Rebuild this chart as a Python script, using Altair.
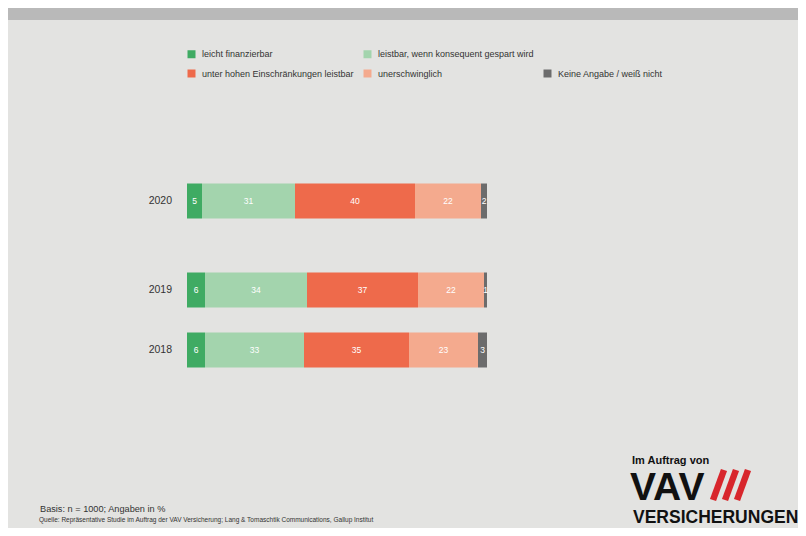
import altair as alt
import pandas as pd

years = [2020, 2019, 2018]
categories = [
    "leicht finanzierbar",
    "leistbar, wenn konsequent gespart wird",
    "unter hohen Einschränkungen leistbar",
    "unerschwinglich",
    "Keine Angabe / weiß nicht",
]
leicht = [5, 6, 6]
leistbar = [31, 34, 33]
unter = [40, 37, 35]
unerschwinglich = [22, 22, 23]
keine = [2, 1, 3]
colors = ["#3fab63", "#a3d4ad", "#ee6a4b", "#f4aa8e", "#6c6c6c"]

basis = "Basis: n = 1000; Angaben in %"
quelle = "Quelle: Repräsentative Studie im Auftrag der VAV Versicherung; Lang & Tomaschtik Communications, Gallup Institut"

series = [leicht, leistbar, unter, unerschwinglich, keine]
rows = []
for ci, (cat, vals) in enumerate(zip(categories, series)):
    for y, v in zip(years, vals):
        rows.append({"year": y, "cat": cat, "value": v, "order": ci})
df = pd.DataFrame(rows)

FONT = "Liberation Sans, Arial, Helvetica, sans-serif"

# legend filled column by column (2 rows x 3 columns, first cell of column 3 empty)
legend_domain = [categories[0], categories[2], categories[1], categories[3], "_", categories[4]]
legend_range = [colors[0], colors[2], colors[1], colors[3], "transparent", colors[4]]

xs = alt.Scale(domain=[-179 / 3, (790 - 179) / 3], zero=False, nice=False, padding=0)
ys = alt.Scale(domain=[2018, 2019, 2020], range=[342, 282, 193], zero=False, nice=False, padding=0)

base = alt.Chart(df).transform_stack(
    stack="value", groupby=["year"], as_=["x0", "x1"],
    sort=[alt.SortField("order", order="ascending")]
).transform_calculate(mid="(datum.x0 + datum.x1) / 2")

bars = base.mark_bar(orient="horizontal", size=35).encode(
    x=alt.X("x0:Q", scale=xs, axis=None),
    x2="x1:Q",
    y=alt.Y("year:Q", scale=ys, axis=None),
    color=alt.Color(
        "cat:N",
        scale=alt.Scale(domain=legend_domain, range=legend_range),
        legend=alt.Legend(
            orient="none", legendX=179, legendY=41.5, columns=3, title=None,
            symbolType="square", symbolSize=64, symbolStrokeWidth=0,
            labelFont=FONT, labelFontSize=9, labelColor="#333333",
            rowPadding=9.5, columnPadding=9, labelOffset=6,
            labelExpr="datum.label == '_' ? '' : datum.label",
            labelLimit=400,
        ),
    ),
)

labels = base.mark_text(color="white", fontSize=8.5, font=FONT).encode(
    x=alt.X("mid:Q", scale=xs, axis=None),
    y=alt.Y("year:Q", scale=ys, axis=None),
    text="value:Q",
)

ydf = pd.DataFrame({"year": years})
year_labels = alt.Chart(ydf).mark_text(
    align="right", fontSize=10.5, font=FONT, color="#333333"
).encode(
    x=alt.value(164),
    y=alt.Y("year:Q", scale=ys, axis=None),
    text=alt.Text("year:Q", format="d"),
)

one = pd.DataFrame({"a": [1]})
band = alt.Chart(one).mark_rect(color="#b9b9b9").encode(
    x=alt.value(0), x2=alt.value(790), y=alt.value(0), y2=alt.value(12)
)

def txt(text, x, y, size, weight="normal", color="#333333", baseline="middle"):
    return alt.Chart(one).mark_text(
        text=text, align="left", baseline=baseline, fontSize=size,
        fontWeight=weight, font=FONT, color=color
    ).encode(x=alt.value(x), y=alt.value(y))

foot1 = txt(basis, 32, 501, 9.2)
foot2 = txt(quelle, 31, 512, 6.5)

logo1 = txt("Im Auftrag von", 624, 453, 11, "bold", "#111111")
logo2 = txt("VAV", 622, 492, 39, "bold", "#111111", "alphabetic")
logo3 = txt("VERSICHERUNGEN", 625, 515, 17.5, "bold", "#111111", "alphabetic")

slashes = []
for dx in [0, 12, 24]:
    slashes.append(
        alt.Chart(one).mark_rule(color="#d8262c", strokeWidth=6.5).encode(
            x=alt.value(705 + dx), x2=alt.value(716 + dx),
            y=alt.value(492), y2=alt.value(462)
        )
    )

chart = alt.layer(
    band, bars, labels, year_labels, foot1, foot2, logo1, logo2, logo3, *slashes
).properties(
    width=790, height=520, padding=0, background="#e3e3e1",
    autosize=alt.AutoSizeParams(type="none"),
).configure_view(stroke=None)

chart.save("out.html", embed_options={"renderer": "svg", "actions": False})
